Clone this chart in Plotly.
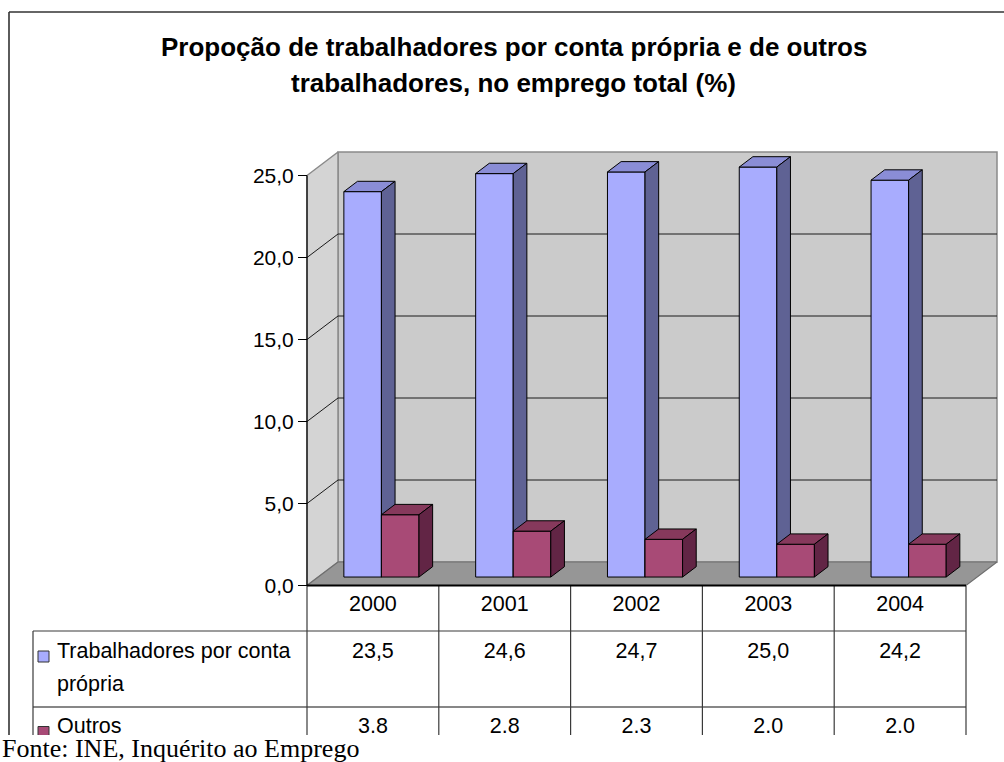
import plotly.graph_objects as go

# ---------------- data ----------------
years = ["2000", "2001", "2002", "2003", "2004"]
conta_propria = [23.5, 24.6, 24.7, 25.0, 24.2]
outros = [3.8, 2.8, 2.3, 2.0, 2.0]
series_names = ["Trabalhadores por conta própria", "Outros"]
y_ticks = [0, 5, 10, 15, 20, 25]
title_lines = ["Propoção de trabalhadores por conta própria e de outros",
               "trabalhadores, no emprego total (%)"]
source_text = "Fonte: INE, Inquérito ao Emprego"

# ---------------- geometry helpers (layout only) ----------------
W, H = 1004, 762
PX_CAT, X0 = 131.8, 307.0      # pixels per category, left of front plane
PX_VAL, Y0 = 16.4, 585.5       # pixels per unit, zero line


def X(px):
    return (px - X0) / PX_CAT


def Y(py):
    return (Y0 - py) / PX_VAL


DX = 31 / PX_CAT   # full depth, in category units
DY = 23.5 / PX_VAL  # full depth, in value units
F0, F1 = 0.36, 0.80  # bar depth (front / back) as fraction of full depth
N = len(years)
YMAX = y_ticks[-1]

blue = dict(front="#A8ACFE", top="#8A8DD6", side="#5F6294")
red = dict(front="#A84A76", top="#86395C", side="#622545")

fig = go.Figure()


def poly(xs, ys, fill, line="#000000", lw=1.0):
    fig.add_trace(go.Scatter(x=xs, y=ys, mode="lines", fill="toself",
                             fillcolor=fill, line=dict(color=line, width=lw),
                             hoverinfo="skip", showlegend=False))


# walls & floor
poly([DX, N + DX, N + DX, DX, DX], [DY, DY, YMAX + DY, YMAX + DY, DY], "#CBCBCB", "#8A8A8A", 1.5)
poly([0, DX, DX, 0, 0], [0, DY, YMAX + DY, YMAX, 0], "#D4D4D4", "#8A8A8A", 1.5)
poly([0, N, N + DX, DX, 0], [0, 0, DY, DY, 0], "#969696", "#6E6E6E", 1.2)

# gridlines
gx, gy = [], []
for v in y_ticks[1:-1]:
    gx += [0, DX, N + DX, None]
    gy += [v, v + DY, v + DY, None]
fig.add_trace(go.Scatter(x=gx, y=gy, mode="lines", line=dict(color="#1A1A1A", width=1),
                         hoverinfo="skip", showlegend=False))


def bars(values, a_off, b_off, colors):
    fx, fy, tx, ty, sx, sy = [], [], [], [], [], []
    for i, h in enumerate(values):
        a = i + a_off
        b = i + b_off
        fx += [a + F0 * DX, b + F0 * DX, b + F0 * DX, a + F0 * DX, a + F0 * DX, None]
        fy += [F0 * DY, F0 * DY, h + F0 * DY, h + F0 * DY, F0 * DY, None]
        tx += [a + F0 * DX, b + F0 * DX, b + F1 * DX, a + F1 * DX, a + F0 * DX, None]
        ty += [h + F0 * DY, h + F0 * DY, h + F1 * DY, h + F1 * DY, h + F0 * DY, None]
        sx += [b + F0 * DX, b + F1 * DX, b + F1 * DX, b + F0 * DX, b + F0 * DX, None]
        sy += [F0 * DY, F1 * DY, h + F1 * DY, h + F0 * DY, F0 * DY, None]
    poly(fx, fy, colors["front"])
    poly(tx, ty, colors["top"])
    poly(sx, sy, colors["side"])


bars(conta_propria, 0.195, 0.48, blue)
bars(outros, 0.48, 0.765, red)

# y axis front line
fig.add_trace(go.Scatter(x=[0, 0], y=[0, YMAX], mode="lines", line=dict(color="#000000", width=1.2),
                         hoverinfo="skip", showlegend=False))

# ---------------- data table ----------------
FONT = "Liberation Sans, Arial, sans-serif"
TFS = 21.5
cat_centers = [i + 0.5 for i in range(N)]
row1_txt = [f"{v:.1f}".replace(".", ",") for v in conta_propria]
row2_txt = [f"{v:.1f}" for v in outros]

fig.add_trace(go.Scatter(x=cat_centers, y=[Y(606)] * N, text=years, mode="text",
                         textfont=dict(size=TFS, color="#000", family=FONT),
                         hoverinfo="skip", showlegend=False))
fig.add_trace(go.Scatter(x=cat_centers, y=[Y(653)] * N, text=row1_txt, mode="text",
                         textfont=dict(size=TFS, color="#000", family=FONT),
                         hoverinfo="skip", showlegend=False))
fig.add_trace(go.Scatter(x=cat_centers, y=[Y(728)] * N, text=row2_txt, mode="text",
                         textfont=dict(size=TFS, color="#000", family=FONT),
                         hoverinfo="skip", showlegend=False))
# row labels
fig.add_trace(go.Scatter(x=[X(57)] * 3, y=[Y(653), Y(686), Y(728)],
                         text=["Trabalhadores por conta", "própria", series_names[1]],
                         mode="text", textposition="middle right",
                         textfont=dict(size=TFS, color="#000", family=FONT),
                         hoverinfo="skip", showlegend=False))
# legend keys
fig.add_trace(go.Scatter(x=[X(43.5), X(43.5)], y=[Y(656.5), Y(732)], mode="markers",
                         marker=dict(symbol="square", size=11,
                                     color=[blue["front"], red["front"]],
                                     line=dict(color="#333333", width=1)),
                         hoverinfo="skip", showlegend=False))

shapes = []


def hline(y, x0, x1, color="#333333", w=1.2):
    shapes.append(dict(type="line", xref="x", yref="y", x0=X(x0), x1=X(x1), y0=Y(y), y1=Y(y),
                       line=dict(color=color, width=w), layer="above"))


def vline(x, y0, y1, color="#333333", w=1.2):
    shapes.append(dict(type="line", xref="x", yref="y", x0=X(x), x1=X(x), y0=Y(y0), y1=Y(y1),
                       line=dict(color=color, width=w), layer="above"))


hline(631, 33, 966, "#3A3A3A")
hline(707, 33, 966, "#111111")
for i in range(N + 1):
    vline(X0 + i * PX_CAT, 586, 736, "#3A3A3A")
vline(33, 631, 736, "#3A3A3A")
# zero line (front floor edge)
hline(585.5, 307, 966, "#000000", 2.2)
# outer chart border
hline(12, 9, 1004, "#333333", 1.6)
vline(9, 12, 736, "#333333", 1.6)
# clip of the picture bottom
shapes.append(dict(type="rect", xref="paper", yref="paper", x0=0, x1=1, y0=0, y1=(H - 735) / H,
                   fillcolor="#FFFFFF", line=dict(width=0), layer="above"))

annotations = [
    dict(text=title_lines[0], x=514 / W, y=1 - 47 / H, xref="paper", yref="paper",
         showarrow=False, xanchor="center", yanchor="middle",
         font=dict(size=26, family=FONT, color="#000", weight="bold")),
    dict(text=title_lines[1], x=513 / W, y=1 - 83 / H, xref="paper", yref="paper",
         showarrow=False, xanchor="center", yanchor="middle",
         font=dict(size=26, family=FONT, color="#000", weight="bold")),
    dict(text=source_text, x=0, y=1 - 748 / H, xref="paper", yref="paper",
         showarrow=False, xanchor="left", yanchor="middle",
         font=dict(size=26, family="Liberation Serif, Times New Roman, serif", color="#000")),
]

fig.update_layout(
    width=W, height=H,
    margin=dict(l=0, r=0, t=0, b=0),
    paper_bgcolor="#FFFFFF", plot_bgcolor="#FFFFFF",
    separators=",.",
    showlegend=False,
    shapes=shapes,
    annotations=annotations,
    xaxis=dict(range=[X(0), X(W)], visible=False, fixedrange=True),
    yaxis=dict(range=[Y(H), Y(0)], anchor="free", position=X0 / W, side="left",
               tickvals=y_ticks, tickformat=".1f", ticks="outside", ticklen=9,
               tickwidth=1, tickcolor="#000", showline=False, showgrid=False,
               zeroline=False, fixedrange=True,
               tickfont=dict(size=21, family=FONT, color="#000")),
)

fig.write_html("out.html", config={"displayModeBar": False},
               post_script="document.body.style.margin='0px';document.body.style.overflow='hidden';")
